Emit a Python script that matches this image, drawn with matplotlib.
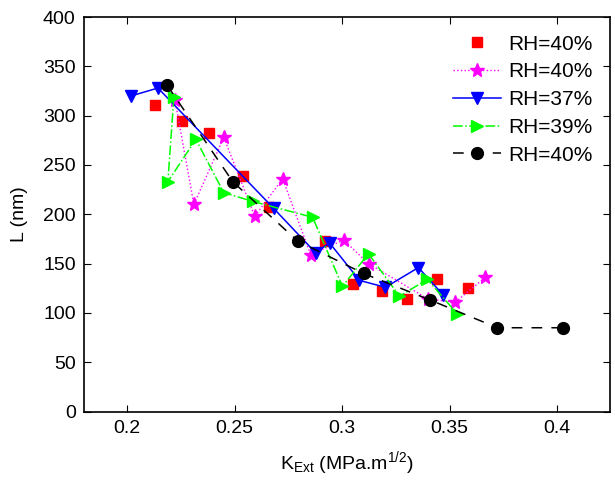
import matplotlib.pyplot as plt
import numpy as np

plt.rcParams['font.family'] = ['Liberation Sans', 'DejaVu Sans']
plt.rcParams['mathtext.fontset'] = 'custom'
plt.rcParams['mathtext.rm'] = 'Liberation Sans'
plt.rcParams['mathtext.it'] = 'Liberation Sans'

# data
k_sq = [0.213, 0.2255, 0.238, 0.2538, 0.2659, 0.2923, 0.3049, 0.3188, 0.3304, 0.3443, 0.3587]
l_sq = [311, 295, 282, 239, 207, 173, 129, 122, 114, 134, 125]

k_star = [0.2223, 0.2311, 0.245, 0.2594, 0.2724, 0.2854, 0.3007, 0.3123, 0.3401, 0.3527, 0.3666]
l_star = [316, 210, 278, 198, 236, 159, 174, 150, 114, 111, 136]

k_tri = [0.2019, 0.2144, 0.2682, 0.2877, 0.2942, 0.3081, 0.3202, 0.3355, 0.3471]
l_tri = [320, 328, 206, 161, 171, 133, 126, 146, 118]

k_rtri = [0.2218, 0.219, 0.232, 0.245, 0.2585, 0.2863, 0.3002, 0.3123, 0.3267, 0.3397, 0.3536]
l_rtri = [319, 233, 276, 222, 213, 197, 127, 160, 117, 134, 99]

k_circ = [0.2186, 0.2492, 0.2793, 0.31, 0.3411, 0.3722, 0.4028]
l_circ = [331, 233, 173, 140, 113, 85, 85]

labels = ["RH=40%", "RH=40%", "RH=37%", "RH=39%", "RH=40%"]

fig = plt.figure(figsize=(6.15, 4.91), dpi=100)
ax = fig.add_axes([84 / 615, 1 - 411.6 / 491, (610 - 84) / 615, (411.6 - 17) / 491])

ax.plot(k_sq, l_sq, linestyle="none", marker="s", color="red", markersize=7, label=labels[0])
ax.plot(k_star, l_star, linestyle=":", marker="*", color="magenta", markersize=10, linewidth=1, label=labels[1])
ax.plot(k_tri, l_tri, linestyle="-", marker="v", color="blue", markersize=9, linewidth=1.1, label=labels[2])
ax.plot(k_rtri, l_rtri, linestyle="-.", marker=">", color=(0, 1, 0), markersize=9, linewidth=1.1, label=labels[3])
ax.plot(k_circ, l_circ, linestyle=(0, (7, 6)), marker="o", color="black", markersize=8.5, linewidth=1.1, label=labels[4])

ax.set_xlim(0.18, 0.4246)
ax.set_ylim(0, 400)
ax.set_xticks([0.2, 0.25, 0.3, 0.35, 0.4])
ax.set_xticklabels(["0.2", "0.25", "0.3", "0.35", "0.4"])
ax.set_yticks(np.arange(0, 401, 50))
ax.tick_params(direction="in", top=True, right=True, labelsize=14, length=5, width=0.8, pad=6)
for s in ax.spines.values():
    s.set_linewidth(1.2)

ax.set_xlabel(r"K$_{\mathrm{Ext}}$ (MPa.m$^{1/2}$)", fontsize=14, labelpad=9)
ax.set_ylabel("L (nm)", fontsize=14, labelpad=11)

ax.legend(loc="upper right", frameon=False, fontsize=15, handlelength=2.3,
          labelspacing=0.42, borderaxespad=0.45, handletextpad=0.35)

fig.savefig("out.png", dpi=100)
